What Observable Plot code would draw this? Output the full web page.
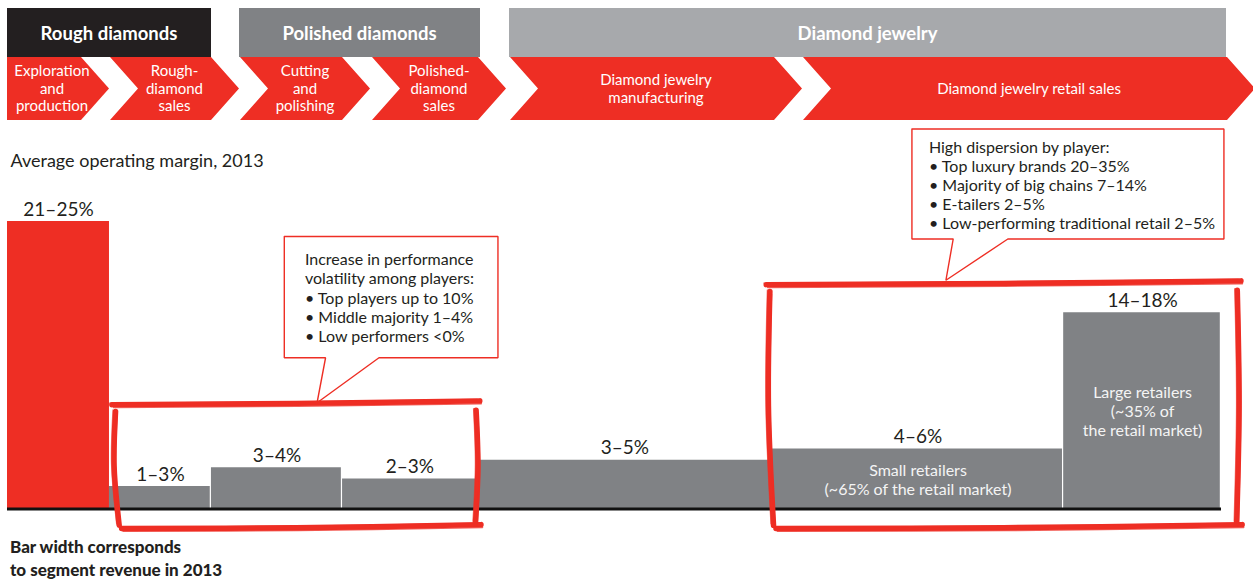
<!DOCTYPE html>
<html>
<head>
<meta charset="utf-8">
<script src="https://cdn.jsdelivr.net/npm/d3@7"></script>
<script src="https://cdn.jsdelivr.net/npm/@observablehq/plot@0.6"></script>
<style>
  body { margin: 0; background: #fff; font-family: Lato, "Open Sans", sans-serif; color: #231f20; }
  #page { position: relative; width: 1253px; height: 581px; overflow: hidden; background: #fff; }
  .grp { position: absolute; top: 8px; height: 49px; display: flex; align-items: center; justify-content: center;
         color: #fff; font-weight: 700; font-size: 18.5px; }
  .chev { position: absolute; top: 57px; height: 63px; background: #ee2e24; color: #fff; font-size: 15px;
          line-height: 17.5px; display: flex; align-items: center; justify-content: center; text-align: center;
          white-space: pre-line; box-sizing: border-box; }
  #plot { position: absolute; left: 0; top: 121px; }
  #foot { position: absolute; left: 10px; top: 535px; font-weight: 900; font-size: 17px; line-height: 23px; color: #231f20; }
</style>
</head>
<body>
<div id="page">
  <div id="header"></div>
  <div id="plot"></div>
  <div id="foot">Bar width corresponds<br>to segment revenue in 2013</div>
</div>
<script>
// ---------------- data ----------------
const stageGroups = ["Rough diamonds", "Polished diamonds", "Diamond jewelry"];
const processSteps = ["Exploration\nand\nproduction", "Rough-\ndiamond\nsales", "Cutting\nand\npolishing",
                      "Polished-\ndiamond\nsales", "Diamond jewelry\nmanufacturing", "Diamond jewelry retail sales"];

const segments = ["Exploration and production", "Rough-diamond sales", "Cutting and polishing",
                  "Polished-diamond sales", "Diamond jewelry manufacturing", "Small retailers", "Large retailers"];
const revenueShare = [8.4, 8.4, 10.8, 11.1, 24.3, 24.0, 13.0];      // bar widths (share of chain revenue, 2013)
const marginMid = [23, 1.8, 3.3, 2.4, 3.9, 4.8, 15.7];               // bar heights (avg operating margin, %)
const marginRange = ["21–25%", "1–3%", "3–4%", "2–3%", "3–5%", "4–6%", "14–18%"];
const innerNotes = ["", "", "", "", "", "Small retailers\n(~65% of the retail market)", "Large retailers\n(~35% of\nthe retail market)"];

const callout1Lines = ["Increase in performance", "volatility among players:", "• Top players up to 10%",
                       "• Middle majority 1–4%", "• Low performers <0%"];
const callout2Lines = ["High dispersion by player:", "• Top luxury brands 20–35%", "• Majority of big chains 7–14%",
                       "• E-tailers 2–5%", "• Low-performing traditional retail 2–5%"];

const titleText = "Average operating margin, 2013";

// ---------------- header layout ----------------
const RED = "#ee2e24", GRAY = "#808285";
const groupLayout = [{left: 7, width: 204, bg: "#231f20"}, {left: 239, width: 241, bg: "#808285"}, {left: 509, width: 717, bg: "#a7a9ac"}];
const stepLayout = [{left: 7, width: 102, first: true, pr: 12}, {left: 110, width: 129}, {left: 240, width: 130},
                    {left: 372, width: 134}, {left: 510, width: 292}, {left: 803, width: 452}];
const D = 28;
const header = document.getElementById("header");
stageGroups.forEach((g, i) => {
  const L = groupLayout[i];
  const el = document.createElement("div");
  el.className = "grp";
  el.style.left = L.left + "px"; el.style.width = L.width + "px"; el.style.background = L.bg;
  el.textContent = g;
  header.appendChild(el);
});
processSteps.forEach((s, i) => {
  const L = stepLayout[i], W = L.width;
  const el = document.createElement("div");
  el.className = "chev";
  el.style.left = L.left + "px"; el.style.width = W + "px";
  el.style.clipPath = L.first
    ? `polygon(0 0, ${W - D}px 0, ${W}px 50%, ${W - D}px 100%, 0 100%)`
    : `polygon(0 0, ${W - D}px 0, ${W}px 50%, ${W - D}px 100%, 0 100%, ${D}px 50%)`;
  el.style.paddingLeft = (L.first ? 0 : D) + "px";
  el.style.paddingRight = (L.pr ?? D) + "px";
  el.textContent = s;
  header.appendChild(el);
});

// ---------------- chart ----------------
let acc = 0;
const bars = segments.map((s, i) => {
  const x1 = acc; acc += revenueShare[i];
  return {segment: s, x1, x2: acc, xm: (x1 + acc) / 2, value: marginMid[i], label: marginRange[i], note: innerNotes[i], upstream: i === 0};
});

// annotation placement (data units)
const callouts = [
  {id: 1, lines: callout1Lines, x1: 22.8, x2: 40.4, y1: 21.8, y2: 12.1, base1: 26.2, base2: 30.6, tipX: 25.5, tipY: 8.5, textX: 24.5, textY: 20.6},
  {id: 2, lines: callout2Lines, x1: 74.5, x2: 100.2, y1: 30.4, y2: 21.6, base1: 77.9, base2: 82.4, tipX: 77.3, tipY: 18.3, textX: 75.9, textY: 29.6}
];
const calloutPath = callouts.flatMap(c => [
  [c.x1, c.y1], [c.x2, c.y1], [c.x2, c.y2], [c.base2, c.y2], [c.tipX, c.tipY], [c.base1, c.y2], [c.x1, c.y2], [c.x1, c.y1]
].map(([x, y]) => ({id: c.id, x, y})));

const brackets = [
  {id: "a", from: 1, to: 3, top: 8.4, bottom: -1.5, padL: 0.5, padR: -0.1},
  {id: "b", from: 5, to: 6, top: 18.0, bottom: -1.5, padL: -0.2, padR: 1.3}
];
const brushStrokes = brackets.flatMap(b => {
  const xl = bars[b.from].x1 + b.padL, xr = bars[b.to].x2 + b.padR;
  const yt = b.top, yb = b.bottom, xm = (xl + xr) / 2, ym = (yt + yb) / 2;
  const sides = {
    top: [[xl - 0.3, yt - 0.05], [xm, yt + 0.05], [xr + 0.3, yt + 0.25]],
    bottom: [[xl + 0.5, yb - 0.05], [xm, yb], [xr + 0.4, yb + 0.25]],
    left: [[xl, yt - 0.6], [xl - 0.12, ym], [xl + 0.3, yb + 0.2]],
    right: [[xr, yt - 0.5], [xr + 0.15, ym], [xr - 0.05, yb + 0.4]]
  };
  return Object.entries(sides).flatMap(([k, pts]) => pts.map(([x, y]) => ({z: b.id + k, x, y})));
});
const brush = {x: "x", y: "y", z: "z", stroke: RED, curve: "catmull-rom", strokeLinecap: "round"};

const chart = Plot.plot({
  width: 1253,
  height: 414,
  marginLeft: 7,
  marginRight: 32,
  marginTop: 12.5,
  marginBottom: 26.5,
  x: {domain: [0, 100], axis: null},
  y: {domain: [0, 30], axis: null},
  style: {fontFamily: "Lato, 'Open Sans', sans-serif", color: "#231f20", background: "transparent", overflow: "visible"},
  marks: [
    Plot.rectY(bars.filter(d => d.upstream), {x1: "x1", x2: "x2", y: "value", fill: RED}),
    Plot.rectY(bars.filter(d => !d.upstream), {x1: "x1", x2: "x2", y: "value", fill: GRAY, insetRight: 1.2}),
    Plot.ruleY([0], {stroke: "#111", strokeWidth: 3}),
    Plot.text(bars, {x: "xm", y: "value", text: "label", lineAnchor: "bottom", dy: -6, fontSize: 19, fill: "#231f20"}),
    Plot.text(bars.filter(d => d.note), {x: "xm", y: d => d.value / 2, text: "note", fontSize: 16, lineHeight: 1.2, fill: "#f4f4f4"}),
    Plot.line(calloutPath, {x: "x", y: "y", z: "id", stroke: RED, strokeWidth: 1.4, fill: "white", strokeLinejoin: "miter", curve: "linear"}),
    Plot.text(callouts, {x: "textX", y: "textY", text: d => d.lines.join("\n"), lineAnchor: "top", textAnchor: "start", fontSize: 16, lineHeight: 1.2, fill: "#231f20"}),
    // hand-drawn brush brackets: a thick core plus thin ragged passes
    Plot.line(brushStrokes, {...brush, strokeWidth: 5.5}),
    Plot.line(brushStrokes, {...brush, strokeWidth: 1.6, dx: 1.5, dy: 2.8, strokeOpacity: 0.75}),
    Plot.line(brushStrokes, {...brush, strokeWidth: 1.2, dx: -2.6, dy: -1.6, strokeOpacity: 0.6}),
    Plot.text([titleText], {frameAnchor: "top-left", text: d => d, dx: 3, dy: 32.5, lineAnchor: "bottom", textAnchor: "start", fontSize: 18, fill: "#231f20"})
  ]
});

document.getElementById("plot").appendChild(chart);
</script>
</body>
</html>
